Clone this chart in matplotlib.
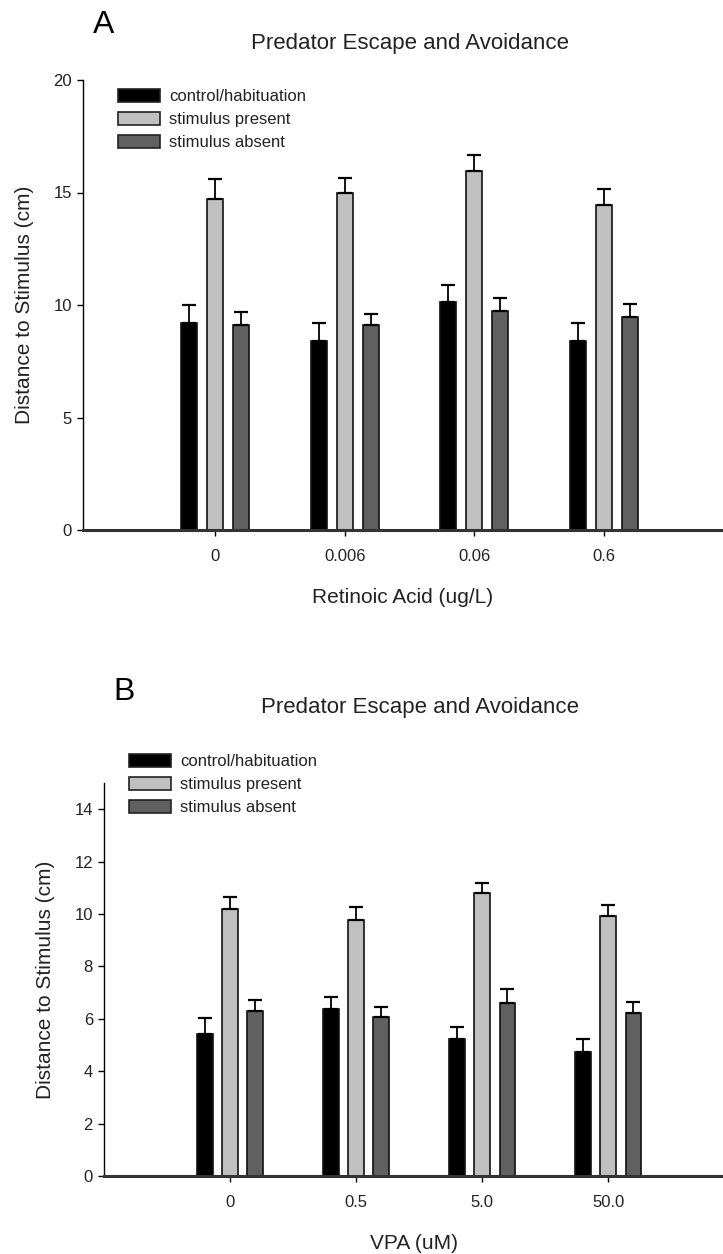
import numpy as np
import matplotlib
matplotlib.use("Agg")
import matplotlib.pyplot as plt
from matplotlib.patches import Patch

plt.rcParams['font.family'] = ['Liberation Sans', 'DejaVu Sans']

series = ['control/habituation', 'stimulus present', 'stimulus absent']
colors = ['#000000', '#c0c0c0', '#606060']

# Panel A - retinoic acid
ra_labels = ['0', '0.006', '0.06', '0.6']
ra_control = [9.2, 8.4, 10.15, 8.4]
ra_control_err = [0.8, 0.8, 0.75, 0.8]
ra_present = [14.7, 15.0, 15.95, 14.45]
ra_present_err = [0.9, 0.65, 0.7, 0.7]
ra_absent = [9.1, 9.1, 9.75, 9.45]
ra_absent_err = [0.6, 0.5, 0.58, 0.6]

# Panel B - VPA
vpa_labels = ['0', '0.5', '5.0', '50.0']
vpa_control = [5.43, 6.38, 5.22, 4.72]
vpa_control_err = [0.59, 0.46, 0.45, 0.5]
vpa_present = [10.2, 9.77, 10.82, 9.91]
vpa_present_err = [0.46, 0.49, 0.36, 0.45]
vpa_absent = [6.29, 6.05, 6.62, 6.23]
vpa_absent_err = [0.44, 0.39, 0.53, 0.43]

W, H = 723, 1254
fig = plt.figure(figsize=(W / 100, H / 100), dpi=100)


def draw_panel(ax, labels, means, errs, ylim, yticks, xlabel, xlim, legend_xy):
    x = np.arange(len(labels))
    width = 0.125
    offsets = [-0.2, 0.0, 0.2]
    for m, e, c, off in zip(means, errs, colors, offsets):
        ax.bar(x + off, m, width, color=c, edgecolor='#111111', linewidth=1.2, zorder=2)
        ax.errorbar(x + off, m, yerr=[np.zeros(len(e)), e], fmt='none',
                    ecolor='black', elinewidth=1.3, capsize=5, capthick=1.6, zorder=3)
    ax.set_xlim(*xlim)
    ax.set_ylim(*ylim)
    ax.set_yticks(yticks)
    ax.set_xticks(x)
    ax.set_xticklabels(labels)
    ax.spines['top'].set_visible(False)
    ax.spines['right'].set_visible(False)
    ax.spines['left'].set_linewidth(1.0)
    ax.spines['bottom'].set_linewidth(2.2)
    ax.spines['bottom'].set_color('#333333')
    ax.tick_params(axis='y', direction='out', length=4, width=1, labelsize=12,
                   pad=4, labelcolor='#222222')
    ax.tick_params(axis='x', direction='out', length=4, width=1, labelsize=12,
                   pad=10, labelcolor='#222222')
    ax.set_ylabel('Distance to Stimulus (cm)', fontsize=15, labelpad=14, color='#222222')
    ax.set_xlabel(xlabel, fontsize=15, labelpad=17, color='#222222')
    handles = [Patch(facecolor=c, edgecolor='#222222', linewidth=1.2) for c in colors]
    ax.legend(handles, series, loc='upper left',
              bbox_to_anchor=(legend_xy[0] / W, 1 - legend_xy[1] / H),
              bbox_transform=fig.transFigure, frameon=False, fontsize=12,
              handlelength=2.5, handleheight=0.85, labelspacing=0.44,
              handletextpad=0.55, borderpad=0, borderaxespad=0,
              labelcolor='#222222')


axA = fig.add_axes([83 / W, 1 - 530 / H, 1 - 83 / W, 450 / H])
draw_panel(axA, ra_labels, [ra_control, ra_present, ra_absent],
           [ra_control_err, ra_present_err, ra_absent_err],
           (0, 20), [0, 5, 10, 15, 20], 'Retinoic Acid (ug/L)', (-1.02, 3.92),
           (118, 89))
fig.text(410 / W, 1 - 43 / H, 'Predator Escape and Avoidance', fontsize=16,
         ha='center', va='center', color='#222222')
fig.text(104 / W, 1 - 25 / H, 'A', fontsize=23, ha='center', va='center')

axB = fig.add_axes([104 / W, 1 - 1176 / H, 1 - 104 / W, 393 / H])
draw_panel(axB, vpa_labels, [vpa_control, vpa_present, vpa_absent],
           [vpa_control_err, vpa_present_err, vpa_absent_err],
           (0, 15), [0, 2, 4, 6, 8, 10, 12, 14], 'VPA (uM)', (-1.0, 3.91),
           (129, 754))
fig.text(420 / W, 1 - 708 / H, 'Predator Escape and Avoidance', fontsize=16,
         ha='center', va='center', color='#222222')
fig.text(124 / W, 1 - 692 / H, 'B', fontsize=23, ha='center', va='center')

fig.savefig('out.png', dpi=100)
